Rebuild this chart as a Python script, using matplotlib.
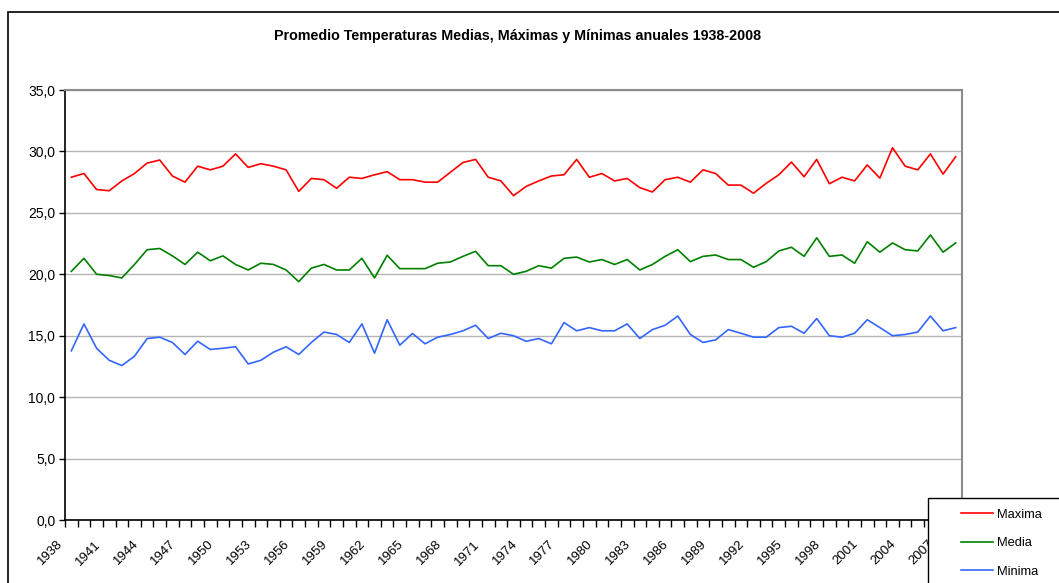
#%% --- Import required packages ---
import numpy as np
import matplotlib
matplotlib.use("Agg")
import matplotlib.pyplot as plt
import matplotlib.transforms as mtrans
from matplotlib.patches import Rectangle
from matplotlib.ticker import FuncFormatter, FixedLocator

#%% --- Data ---

years = list(range(1938, 2009))

maxima = [27.9, 28.2, 26.9, 26.8, 27.6, 28.2, 29.05, 29.3, 28.0, 27.5,
          28.8, 28.5, 28.8, 29.8, 28.7, 29.0, 28.8, 28.5, 26.75, 27.8,
          27.7, 27.0, 27.9, 27.8, 28.1, 28.35, 27.7, 27.7, 27.5, 27.5,
          28.3, 29.1, 29.35, 27.9, 27.6, 26.4, 27.15, 27.6, 28.0, 28.1,
          29.35, 27.9, 28.2, 27.6, 27.8, 27.05, 26.7, 27.7, 27.9, 27.5,
          28.5, 28.2, 27.26, 27.26, 26.6, 27.4, 28.1, 29.13, 27.94, 29.35,
          27.37, 27.9, 27.6, 28.9, 27.83, 30.3, 28.8, 28.5, 29.8, 28.15,
          29.57]

media = [20.24, 21.3, 20.0, 19.9, 19.7, 20.8, 22.0, 22.1, 21.5, 20.8,
         21.8, 21.1, 21.5, 20.8, 20.35, 20.9, 20.8, 20.35, 19.4, 20.5,
         20.8, 20.35, 20.35, 21.3, 19.7, 21.55, 20.46, 20.46, 20.46, 20.9,
         21.0, 21.46, 21.87, 20.7, 20.7, 20.0, 20.24, 20.7, 20.5, 21.3,
         21.4, 21.0, 21.2, 20.8, 21.2, 20.35, 20.8, 21.46, 22.0, 21.03,
         21.46, 21.57, 21.2, 21.2, 20.57, 21.03, 21.9, 22.2, 21.46, 22.97,
         21.46, 21.57, 20.9, 22.65, 21.8, 22.55, 22.0, 21.9, 23.2, 21.8,
         22.55]

minima = [13.77, 15.96, 13.98, 13.0, 12.57, 13.33, 14.77, 14.88, 14.45, 13.47,
          14.55, 13.88, 13.98, 14.1, 12.7, 13.0, 13.66, 14.1, 13.47, 14.45,
          15.3, 15.1, 14.45, 15.96, 13.58, 16.3, 14.23, 15.18, 14.34, 14.88,
          15.1, 15.4, 15.85, 14.77, 15.2, 15.0, 14.55, 14.77, 14.34, 16.07,
          15.4, 15.66, 15.4, 15.4, 15.96, 14.77, 15.5, 15.85, 16.6, 15.1,
          14.45, 14.66, 15.5, 15.2, 14.88, 14.88, 15.66, 15.77, 15.2, 16.4,
          15.0, 14.88, 15.2, 16.3, 15.66, 15.0, 15.1, 15.3, 16.6, 15.4,
          15.66]

series_names = ["Maxima", "Media", "Minima"]
series_colors = ["#FF0000", "#008000", "#3366FF"]

title = "Promedio Temperaturas Medias, Máximas y Mínimas anuales 1938-2008"

#%% --- Figure ---

plt.rcParams["font.family"] = ["Liberation Sans", "DejaVu Sans"]

W, H = 1059, 583
fig = plt.figure(figsize=(W / 100, H / 100), dpi=100)

# outer chart border (runs off the right/bottom edge)
fig.patches.append(Rectangle((8 / W, -0.1), 1.2, 1 - 12 / H + 0.1,
                             transform=fig.transFigure, fill=False,
                             edgecolor="black", linewidth=1.2, zorder=0))

ax = fig.add_axes([65 / W, 1 - 520 / H, (962 - 65) / W, (520 - 90) / H])

x = np.arange(len(years))
for vals, name, c in zip([maxima, media, minima], series_names, series_colors):
    ax.plot(x, vals, color=c, linewidth=1.2, label=name, zorder=3)

# --- Axes and grid ---
ax.set_xlim(-0.5, len(years) - 0.5)
ax.set_ylim(0, 35)
ax.set_yticks(np.arange(0, 36, 5))
ax.yaxis.set_major_formatter(FuncFormatter(lambda v, p: f"{v:.1f}".replace(".", ",")))
ax.yaxis.grid(True, color="#b4b4b4", linewidth=1.0)
ax.set_axisbelow(True)

label_pos = x[::3]
ax.xaxis.set_major_locator(FixedLocator(label_pos))
ax.set_xticklabels([str(years[i]) for i in label_pos], rotation=45,
                   ha="right", va="top", rotation_mode="anchor")
ax.xaxis.set_minor_locator(FixedLocator(np.arange(-0.5, len(years), 1)))
ax.tick_params(axis="x", which="major", length=0, pad=8, labelsize=9.5)
ax.tick_params(axis="x", which="minor", length=5, width=1, direction="out")
ax.tick_params(axis="y", length=4, width=1, direction="out", labelsize=10, pad=3)

# shift rotated year labels left/down like the spreadsheet layout
shift = mtrans.ScaledTranslation(-15 / 100, -7 / 100, fig.dpi_scale_trans)
for lab in ax.get_xticklabels():
    lab.set_transform(lab.get_transform() + shift)

for s in ["top", "right"]:
    ax.spines[s].set_color("#8c8c8c")
    ax.spines[s].set_linewidth(1.5)
for s in ["left", "bottom"]:
    ax.spines[s].set_color("black")
    ax.spines[s].set_linewidth(1.2)

# --- Title ---
fig.text(0.489, 1 - 36 / H, title, ha="center", va="center",
         fontsize=10.3, fontweight="bold")

# --- Legend (box runs off the edge) ---
fig.patches.append(Rectangle((928 / W, -0.1), 0.5, 1 - 498 / H + 0.1,
                             transform=fig.transFigure, facecolor="white",
                             edgecolor="black", linewidth=1.0, zorder=5))
handles, labels = ax.get_legend_handles_labels()
leg = fig.legend(handles, labels, loc="upper left",
                 bbox_to_anchor=(949 / W, 1 - 497 / H), frameon=False,
                 fontsize=9.3, handlelength=2.5, handletextpad=0.3,
                 labelspacing=1.28)
leg.set_zorder(6)

fig.savefig("out.png", dpi=100)
